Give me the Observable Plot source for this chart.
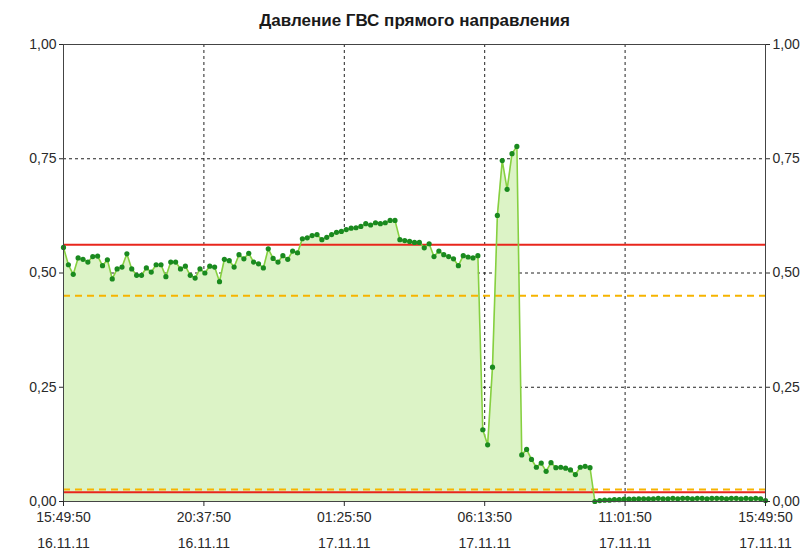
<!DOCTYPE html>
<html><head><meta charset="utf-8">
<script src="https://cdn.jsdelivr.net/npm/d3@7"></script>
<script src="https://cdn.jsdelivr.net/npm/@observablehq/plot@0.6"></script>
<style>
body{margin:0;background:#fff;}
#chart{width:807px;height:555px;}
</style>
</head><body><div id="chart"></div>
<script>
const title = "Давление ГВС прямого направления";
const startTime = new Date(2011, 10, 16, 15, 49, 50);
const stepMinutes = 10;
const tickStepMinutes = 288;
const pressure = [
  0.556, 0.518, 0.497, 0.533, 0.530, 0.524, 0.536, 0.537, 0.516, 0.529,
  0.487, 0.509, 0.513, 0.542, 0.509, 0.495, 0.495, 0.511, 0.502, 0.518,
  0.518, 0.492, 0.524, 0.524, 0.509, 0.515, 0.495, 0.489, 0.509, 0.500,
  0.515, 0.513, 0.481, 0.530, 0.527, 0.513, 0.540, 0.531, 0.543, 0.524,
  0.520, 0.511, 0.553, 0.532, 0.524, 0.538, 0.530, 0.548, 0.544, 0.575,
  0.577, 0.582, 0.584, 0.573, 0.578, 0.584, 0.589, 0.591, 0.595, 0.598,
  0.599, 0.602, 0.608, 0.605, 0.610, 0.608, 0.610, 0.615, 0.615, 0.573,
  0.571, 0.569, 0.567, 0.567, 0.555, 0.564, 0.536, 0.548, 0.540, 0.536,
  0.531, 0.516, 0.538, 0.535, 0.533, 0.538, 0.157, 0.124, 0.294, 0.626,
  0.746, 0.683, 0.761, 0.777, 0.102, 0.114, 0.092, 0.075, 0.084, 0.066,
  0.085, 0.074, 0.075, 0.073, 0.069, 0.059, 0.075, 0.077, 0.074, 0.000,
  0.002, 0.003, 0.003, 0.004, 0.004, 0.005, 0.005, 0.005, 0.006, 0.006,
  0.006, 0.006, 0.007, 0.006, 0.006, 0.007, 0.006, 0.007, 0.007, 0.006,
  0.007, 0.007, 0.006, 0.007, 0.007, 0.007, 0.006, 0.007, 0.007, 0.006,
  0.007, 0.006, 0.007, 0.006, 0.002
];
const upperLimit = 0.562;
const lowerLimit = 0.020;
const upperWarn = 0.450;
const lowerWarn = 0.026;
const yTicks = [0, 0.25, 0.5, 0.75, 1];
const yGrid = [0.25, 0.5, 0.75];
const tickCount = 6;

const data = pressure.map((v, i) => ({t: new Date(+startTime + i * stepMinutes * 60000), v}));
const endTime = data[data.length - 1].t;
const xTicks = d3.range(tickCount).map(i => new Date(+startTime + i * tickStepMinutes * 60000));
const fmtY = d => d3.format(".2f")(d).replace(".", ",");
const fmtTime = d3.timeFormat("%H:%M:%S");
const fmtDate = d3.timeFormat("%d.%m.%y");

const gridStyle = {stroke: "#222", strokeOpacity: 1, strokeDasharray: "3,3", strokeWidth: 1};

const chart = Plot.plot({
  width: 807, height: 555,
  marginLeft: 63, marginRight: 42, marginTop: 44, marginBottom: 54,
  style: {fontFamily: "'Liberation Sans', Arial, sans-serif", fontSize: "14px", color: "#2a2a2a", background: "white"},
  x: {type: "time", domain: [startTime, endTime]},
  y: {domain: [0, 1]},
  marks: [
    Plot.gridY(yGrid, gridStyle),
    Plot.gridX(xTicks.slice(1, -1), gridStyle),
    Plot.areaY(data, {x: "t", y: "v", fill: "#dcf3c6"}),
    Plot.ruleY([upperLimit, lowerLimit], {stroke: "#e8261c", strokeWidth: 2}),
    Plot.ruleY([upperWarn, lowerWarn], {stroke: "#f6b400", strokeWidth: 2, strokeDasharray: "7,5"}),
    Plot.lineY(data, {x: "t", y: "v", stroke: "#86d040", strokeWidth: 1.6}),
    Plot.dot(data, {x: "t", y: "v", r: 2.6, fill: "#1a8a1f", stroke: "none"}),
    Plot.frame({stroke: "#444"}),
    Plot.axisY(yTicks, {anchor: "left", tickFormat: fmtY, tickSize: 4, tickPadding: 3, label: null}),
    Plot.axisY(yTicks, {anchor: "right", tickFormat: fmtY, tickSize: 4, tickPadding: 3, label: null}),
    Plot.axisX(xTicks, {anchor: "bottom", tickFormat: fmtTime, tickSize: 5, tickPadding: 6, label: null}),
    Plot.axisX(xTicks, {anchor: "bottom", tickFormat: fmtDate, tickSize: 0, tickPadding: 37, label: null}),
    Plot.text([title], {frameAnchor: "top", dy: -24, lineAnchor: "middle", fontWeight: "bold", fontSize: 17, fill: "#1a1a1a"})
  ]
});
document.getElementById("chart").appendChild(chart);
</script>
</body></html>
